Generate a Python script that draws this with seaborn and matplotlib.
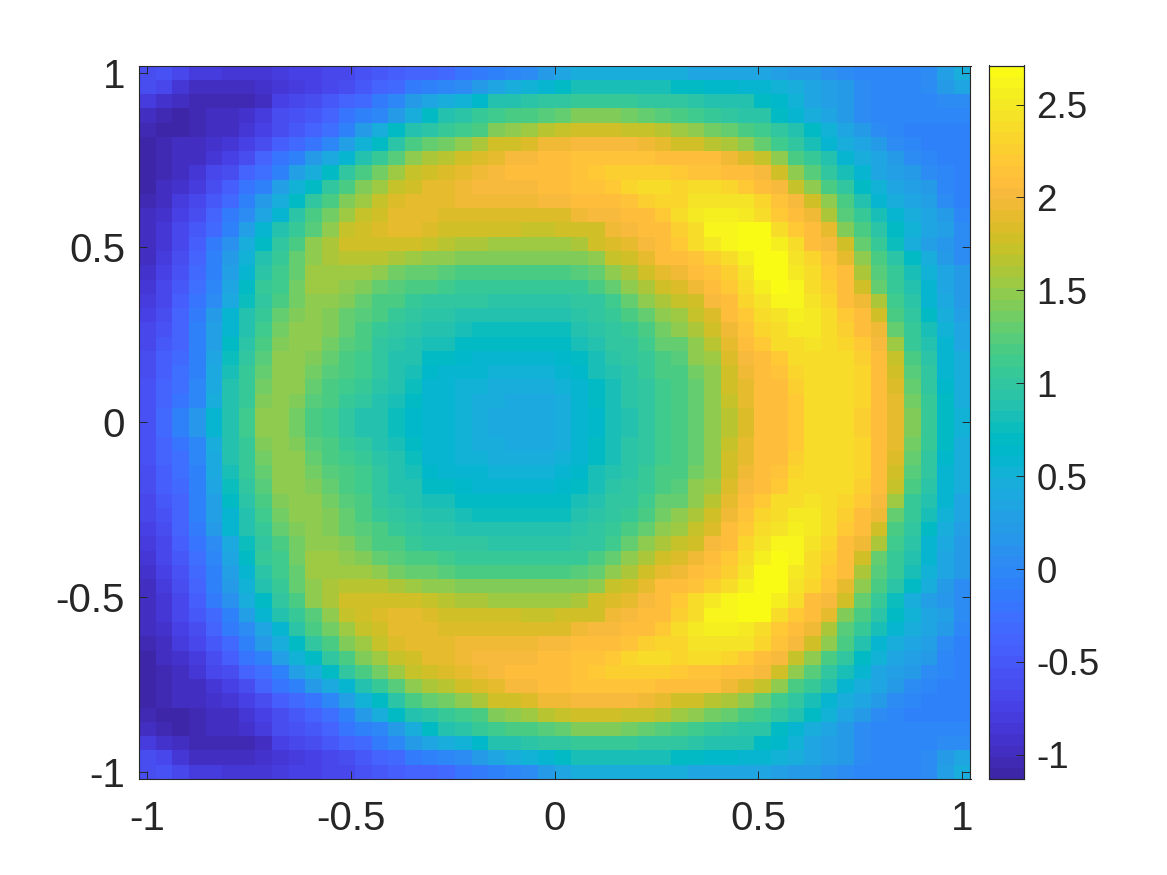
import numpy as np
import matplotlib
matplotlib.use("Agg")
import matplotlib.pyplot as plt
from matplotlib.colors import ListedColormap
import seaborn as sns

# Cell values (hundredths), top half of the 50x50 map, top row first.
cell_rows_top = [
 [-60,-55,-65,-80,-80,-85,-85,-85,-80,-75,-75,-70,-65,-55,-50,-45,-40,-35, -30,-20,-15,-5,0,5,20,35, 45,45,45,45,45,45, 45,35,35,35,35,35,25,20,20,10,5,0,0,0,0,5,25,45],
 [-60,-70,-85,-100,-100,-100,-95,-90,-85,-80,-75,-70,-60,-50,-40,-30,-15,-5, 0,5,20,35,45,50,55,70, 80,80,80,80,80,80, 70,70,65,65,60,55,50,45,35,25,20,5,0,0,0,5,20,35],
 [-80,-90,-95,-105,-105,-105,-105,-95,-75,-70,-60,-50,-40,-30,-15,0,20,35, 45,50,65,85,90,95,100,100, 105,105,105,105,100,100, 100,95,85,85,85,70,65,50,35,25,20,5,0,0,0,0,5,5],
 [-100,-105,-108,-105,-100,-95,-90,-80,-60,-55,-50,-35,-20,-10,0,20,45,70, 85,95,105,110,115,120,125,130, 140,140,140,135,130,125, 120,110,105,100,95,95,70,60,45,35,20,5,0,0,0,0,0,0],
 [-105,-108,-108,-105,-100,-95,-85,-75,-60,-50,-40,-25,-5,20,45,70,85,95, 105,110,120,140,150,155,165,170, 175,175,175,170,170,165, 155,145,135,130,120,112,100,85,70,50,35,20,5,0,-5,-5,-5,-5],
 [-108,-105,-100,-95,-90,-85,-75,-60,-45,-30,-20,0,25,50,70,95,115,130, 135,145,160,175,180,185,195,195, 200,200,200,200,195,190, 180,175,165,160,150,130,112,100,80,60,45,35,20,5,0,-5,-5,-5],
 [-110,-105,-100,-95,-85,-75,-60,-40,-20,-10,20,40,60,85,105,125,145,160, 165,175,185,190,200,200,205,210, 215,215,215,215,215,210, 205,205,205,195,185,170,145,120,105,85,60,45,35,20,5,0,-5,-5],
 [-110,-105,-95,-85,-70,-60,-40,-25,-5,25,45,70,100,115,135,155,170,180, 185,190,195,200,205,205,210,210, 215,220,225,225,225,225, 220,215,215,210,205,200,180,145,125,100,80,55,35,25,20,5,0,-5],
 [-108,-100,-90,-80,-60,-45,-20,-5,25,50,70,100,115,140,155,170,180,188, 190,195,200,200,200,200,205,210, 215,215,220,230,235,235, 230,235,235,230,220,210,200,170,150,120,100,70,50,35,25,20,0,-5],
 [-105,-95,-80,-65,-50,-30,-10,20,45,70,100,120,140,155,170,182,188,190, 190,195,195,195,195,195,200,200, 205,205,210,215,225,230, 230,245,245,245,245,230,215,200,175,145,115,85,60,45,35,25,5,-5],
 [-100,-90,-75,-60,-40,-15,5,35,60,95,115,135,155,170,180,188,190,190, 185,185,185,185,185,185,185,185, 195,200,200,205,210,220, 235,250,255,255,250,240,220,205,195,160,125,105,80,55,45,35,20,0],
 [-95,-85,-70,-50,-30,-5,25,55,85,105,125,150,170,180,185,188,188,185, 180,180,175,175,175,170,170,175, 175,180,195,200,205,210, 225,240,260,260,265,265,240,220,205,190,140,115,95,70,50,35,25,5],
 [-100,-85,-65,-45,-15,10,45,70,100,115,145,162,175,180,180,178,175,170, 165,160,158,155,155,155,155,155, 160,175,185,190,200,205, 220,235,250,260,270,270,255,235,210,200,175,130,105,75,45,25,15,5],
 [-95,-80,-60,-35,-5,20,50,85,105,130,150,158,168,168,165,160,152,148, 145,142,140,140,140,140,140,140, 140,150,170,180,190,205, 205,215,225,240,255,270,265,245,230,215,190,145,115,95,70,45,20,5],
 [-90,-75,-55,-30,-5,25,55,95,110,130,152,155,155,152,145,138,132,128, 125,120,120,120,115,115,115,115, 125,130,150,160,175,190, 195,205,215,225,245,265,270,250,235,220,205,160,125,105,80,50,35,20],
 [-85,-70,-50,-25,0,35,70,105,112,135,155,155,150,140,130,125,120,115, 110,108,105,105,105,105,105,105, 108,115,130,145,160,175, 185,195,210,220,235,255,265,260,240,225,205,180,130,108,85,55,35,20],
 [-80,-65,-45,-20,5,40,75,100,120,135,150,150,140,130,120,115,105,100, 100,100,100,95,95,95,95,95, 100,100,112,130,145,160, 170,180,200,210,230,245,260,260,245,230,210,195,160,112,95,60,40,20],
 [-75,-60,-40,-15,20,55,85,105,130,140,150,140,130,125,115,105,100,95, 95,90,85,85,85,85,85,85, 95,100,105,115,130,145, 155,170,185,205,220,235,245,255,250,235,220,205,175,120,100,70,45,25],
 [-70,-55,-35,-10,25,60,90,110,135,145,150,140,130,120,105,100,95,85, 85,80,75,75,75,75,75,75, 85,95,100,108,120,135, 145,160,175,195,215,230,240,250,250,240,225,210,195,130,105,80,50,35],
 [-65,-50,-35,-10,30,70,95,118,140,148,145,135,125,115,100,95,85,80, 80,72,68,68,68,68,68,68, 80,85,100,100,110,130, 130,150,165,190,210,220,235,240,245,240,230,220,200,155,108,85,55,35],
 [-60,-45,-30,-5,35,75,100,125,145,148,140,130,120,110,100,90,85,70, 70,62,60,60,60,60,60,62, 70,80,95,100,105,120, 125,145,155,185,200,210,220,235,240,240,235,225,210,170,115,95,60,45],
 [-60,-45,-25,-5,40,80,105,130,148,148,138,125,115,110,100,90,80,65, 60,55,55,50,50,50,50,55, 65,80,85,95,105,115, 120,135,150,180,195,205,215,230,240,240,235,230,210,180,125,100,60,45],
 [-55,-40,-25,0,40,85,105,138,150,145,130,120,110,105,95,85,75,60, 55,50,50,45,45,45,45,50, 60,70,80,95,100,110, 115,130,145,175,190,205,210,225,240,240,235,230,210,185,130,100,65,45],
 [-55,-35,-20,0,45,88,108,142,150,140,125,115,105,100,90,80,70,60, 55,50,45,45,40,40,40,45, 60,70,80,95,100,110, 115,130,145,170,190,205,210,220,240,240,235,230,210,190,135,105,70,45],
 [-55,-30,-10,15,55,90,110,145,150,135,120,110,100,90,85,75,65,55, 55,50,45,40,40,40,40,45, 60,65,80,85,100,110, 115,130,145,165,185,205,210,220,235,240,235,225,210,190,140,105,70,50],
]
x_ticks = [-1, -0.5, 0, 0.5, 1]
y_ticks = [1, 0.5, 0, -0.5, -1]
x_tick_labels = ["-1", "-0.5", "0", "0.5", "1"]
y_tick_labels = ["1", "0.5", "0", "-0.5", "-1"]
cbar_ticks = [-1, -0.5, 0, 0.5, 1, 1.5, 2, 2.5]
cbar_tick_labels = ["-1", "-0.5", "0", "0.5", "1", "1.5", "2", "2.5"]
value_min, value_max = -1.13, 2.71

parula = ListedColormap([
 (0.2422,0.1504,0.6603),(0.2504,0.1650,0.7076),(0.2578,0.1818,0.7511),(0.2647,0.1978,0.7952),
 (0.2706,0.2147,0.8364),(0.2751,0.2342,0.8710),(0.2783,0.2559,0.8991),(0.2803,0.2782,0.9221),
 (0.2813,0.3006,0.9414),(0.2810,0.3228,0.9579),(0.2795,0.3447,0.9717),(0.2760,0.3667,0.9829),
 (0.2699,0.3892,0.9906),(0.2602,0.4123,0.9952),(0.2440,0.4358,0.9988),(0.2206,0.4603,0.9973),
 (0.1963,0.4847,0.9892),(0.1834,0.5074,0.9798),(0.1786,0.5289,0.9682),(0.1764,0.5499,0.9520),
 (0.1687,0.5703,0.9359),(0.1540,0.5902,0.9218),(0.1460,0.6091,0.9079),(0.1380,0.6276,0.8973),
 (0.1248,0.6459,0.8883),(0.1113,0.6635,0.8763),(0.0952,0.6798,0.8598),(0.0689,0.6948,0.8394),
 (0.0297,0.7082,0.8163),(0.0036,0.7203,0.7917),(0.0067,0.7312,0.7660),(0.0433,0.7411,0.7394),
 (0.0964,0.7500,0.7120),(0.1408,0.7584,0.6834),(0.1717,0.7670,0.6541),(0.1938,0.7758,0.6251),
 (0.2161,0.7843,0.5923),(0.2470,0.7918,0.5567),(0.2906,0.7973,0.5188),(0.3406,0.8008,0.4789),
 (0.3909,0.8029,0.4354),(0.4456,0.8024,0.3909),(0.5044,0.7993,0.3480),(0.5616,0.7942,0.3045),
 (0.6174,0.7876,0.2612),(0.6720,0.7793,0.2227),(0.7242,0.7698,0.1910),(0.7738,0.7598,0.1646),
 (0.8203,0.7498,0.1535),(0.8634,0.7406,0.1596),(0.9035,0.7330,0.1774),(0.9393,0.7288,0.2100),
 (0.9728,0.7298,0.2394),(0.9956,0.7434,0.2371),(0.9970,0.7659,0.2199),(0.9952,0.7893,0.2028),
 (0.9892,0.8136,0.1885),(0.9786,0.8386,0.1766),(0.9676,0.8639,0.1643),(0.9610,0.8890,0.1537),
 (0.9597,0.9135,0.1423),(0.9628,0.9373,0.1265),(0.9691,0.9606,0.1064),(0.9769,0.9839,0.0805),
], name="parula")

sns.set_theme(style="white")
plt.rcParams["font.family"] = ["Liberation Sans", "DejaVu Sans"]
plt.rcParams["axes.unicode_minus"] = False

W, H = 1167, 875
INK = "#262626"
FS_AXES = 29
FS_CBAR = 26.5
fig = plt.figure(figsize=(W / 100, H / 100), dpi=100, facecolor="white")
ax = fig.add_axes([139 / W, 1 - 779 / H, 831.5 / W, 713.5 / H])
cax = fig.add_axes([989 / W, 1 - 779 / H, 35 / W, 713.5 / H])

grid = np.array(cell_rows_top + cell_rows_top[::-1], dtype=float) / 100
sns.heatmap(grid, ax=ax, cbar_ax=cax, cmap=parula, vmin=value_min, vmax=value_max,
            xticklabels=False, yticklabels=False, cbar=True)

n = grid.shape[0]
step = 2 / (n - 1)
ax.set_axisbelow(False)
ax.set_xticks([(v + 1) / step + 0.5 for v in x_ticks])
ax.set_xticklabels(x_tick_labels, rotation=0)
ax.set_yticks([(1 - v) / step + 0.5 for v in y_ticks])
ax.set_yticklabels(y_tick_labels, rotation=0)
ax.tick_params(axis="both", direction="in", length=5.8, width=0.7, color=INK,
               labelcolor=INK, labelsize=FS_AXES, top=True, right=True, bottom=True, left=True)
ax.tick_params(axis="x", pad=15)
ax.tick_params(axis="y", pad=10)
for s in ax.spines.values():
    s.set_visible(True)
    s.set_color(INK)
    s.set_linewidth(0.8)

cax.set_axisbelow(False)
cax.set_yticks(cbar_ticks)
cax.set_yticklabels(cbar_tick_labels)
cax.tick_params(axis="y", direction="in", length=5.8, width=0.7, color=INK, labelcolor=INK,
                labelsize=FS_CBAR, right=True, left=False, labelright=True, labelleft=False, pad=9)
for s in cax.spines.values():
    s.set_visible(True)
    s.set_color(INK)
    s.set_linewidth(0.8)

fig.savefig("out.png", dpi=100, facecolor="white")
